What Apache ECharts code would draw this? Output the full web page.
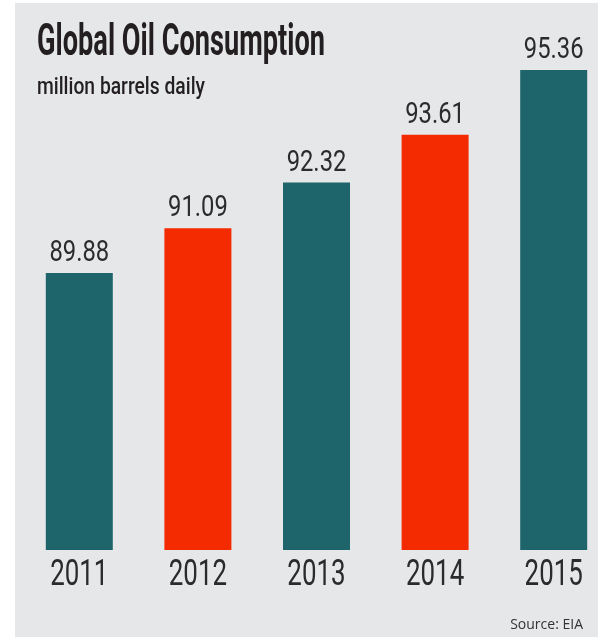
<!DOCTYPE html>
<html>
<head>
<meta charset="utf-8">
<script src="https://cdn.jsdelivr.net/npm/echarts@6/dist/echarts.min.js"></script>
<style>
  html, body { margin: 0; padding: 0; background: #fff; }
  #chart { width: 603px; height: 638px; }
</style>
</head>
<body>
<div id="chart"></div>
<script>
// data
var years = ['2011', '2012', '2013', '2014', '2015']
var consumption = [89.88, 91.09, 92.32, 93.61, 95.36]
// years drawn in red
var redYears = ['2012', '2014']

var yMin = 82.4
var yMax = 95.9

// the original uses a condensed face; squeeze a normal one to the same width
function squeeze(text, font, width) {
  var ctx = document.createElement('canvas').getContext('2d')
  ctx.font = font
  return width / ctx.measureText(text).width
}

var titleFont = 'bold 45px Roboto'
var subFont = '500 23px Roboto'
var numFont = '29px Roboto'
var yearFont = '36px Roboto'

function renderItem(params, api) {
  var idx = api.value(0)
  var val = api.value(1)
  var top = api.coord([idx, val])
  var base = api.coord([idx, yMin])
  var w = 67
  var red = redYears.indexOf(years[idx]) >= 0
  return {
    type: 'group',
    children: [
      {
        type: 'rect',
        shape: { x: top[0] - w / 2, y: top[1], width: w, height: base[1] - top[1] },
        style: { fill: red ? '#f42b00' : '#1d656a' }
      },
      {
        type: 'text',
        x: top[0],
        y: top[1] - 19,
        scaleX: 0.82,
        style: {
          text: val.toFixed(2),
          font: numFont,
          fill: '#2b2b2b',
          align: 'center',
          verticalAlign: 'middle'
        }
      },
      {
        type: 'text',
        x: base[0],
        y: base[1] + 26,
        scaleX: 0.72,
        style: {
          text: years[idx],
          font: yearFont,
          fill: '#2b2b2b',
          align: 'center',
          verticalAlign: 'middle'
        }
      }
    ]
  }
}

var chart = echarts.init(document.getElementById('chart'))
var option = {
  animation: false,
  backgroundColor: '#fff',
  graphic: [
    // grey panel
    {
      type: 'rect',
      z: -10,
      shape: { x: 15, y: 3, width: 583, height: 634 },
      style: { fill: '#e6e7e9' }
    },
    {
      type: 'text',
      x: 37,
      y: 44,
      scaleX: squeeze('Global Oil Consumption', titleFont, 288),
      style: {
        text: 'Global Oil Consumption',
        font: titleFont,
        fill: '#231f20',
        verticalAlign: 'middle'
      }
    },
    {
      type: 'text',
      x: 37,
      y: 88,
      scaleX: squeeze('million barrels daily', subFont, 168),
      style: {
        text: 'million barrels daily',
        font: subFont,
        fill: '#231f20',
        verticalAlign: 'middle'
      }
    },
    {
      type: 'text',
      x: 583,
      y: 625,
      style: {
        text: 'Source: EIA',
        font: '14px "Open Sans", sans-serif',
        fill: '#333',
        align: 'right',
        verticalAlign: 'middle'
      }
    }
  ],
  grid: {
    left: 20,
    width: 593,
    top: 50,
    bottom: 88,
    outerBoundsMode: 'none'
  },
  xAxis: {
    type: 'category',
    data: years,
    show: false
  },
  yAxis: {
    type: 'value',
    show: false,
    min: yMin,
    max: yMax
  },
  series: [
    {
      type: 'custom',
      silent: true,
      clip: false,
      renderItem: renderItem,
      data: consumption.map(function (v, i) { return [i, v] })
    }
  ]
}
chart.setOption(option)
</script>
</body>
</html>
